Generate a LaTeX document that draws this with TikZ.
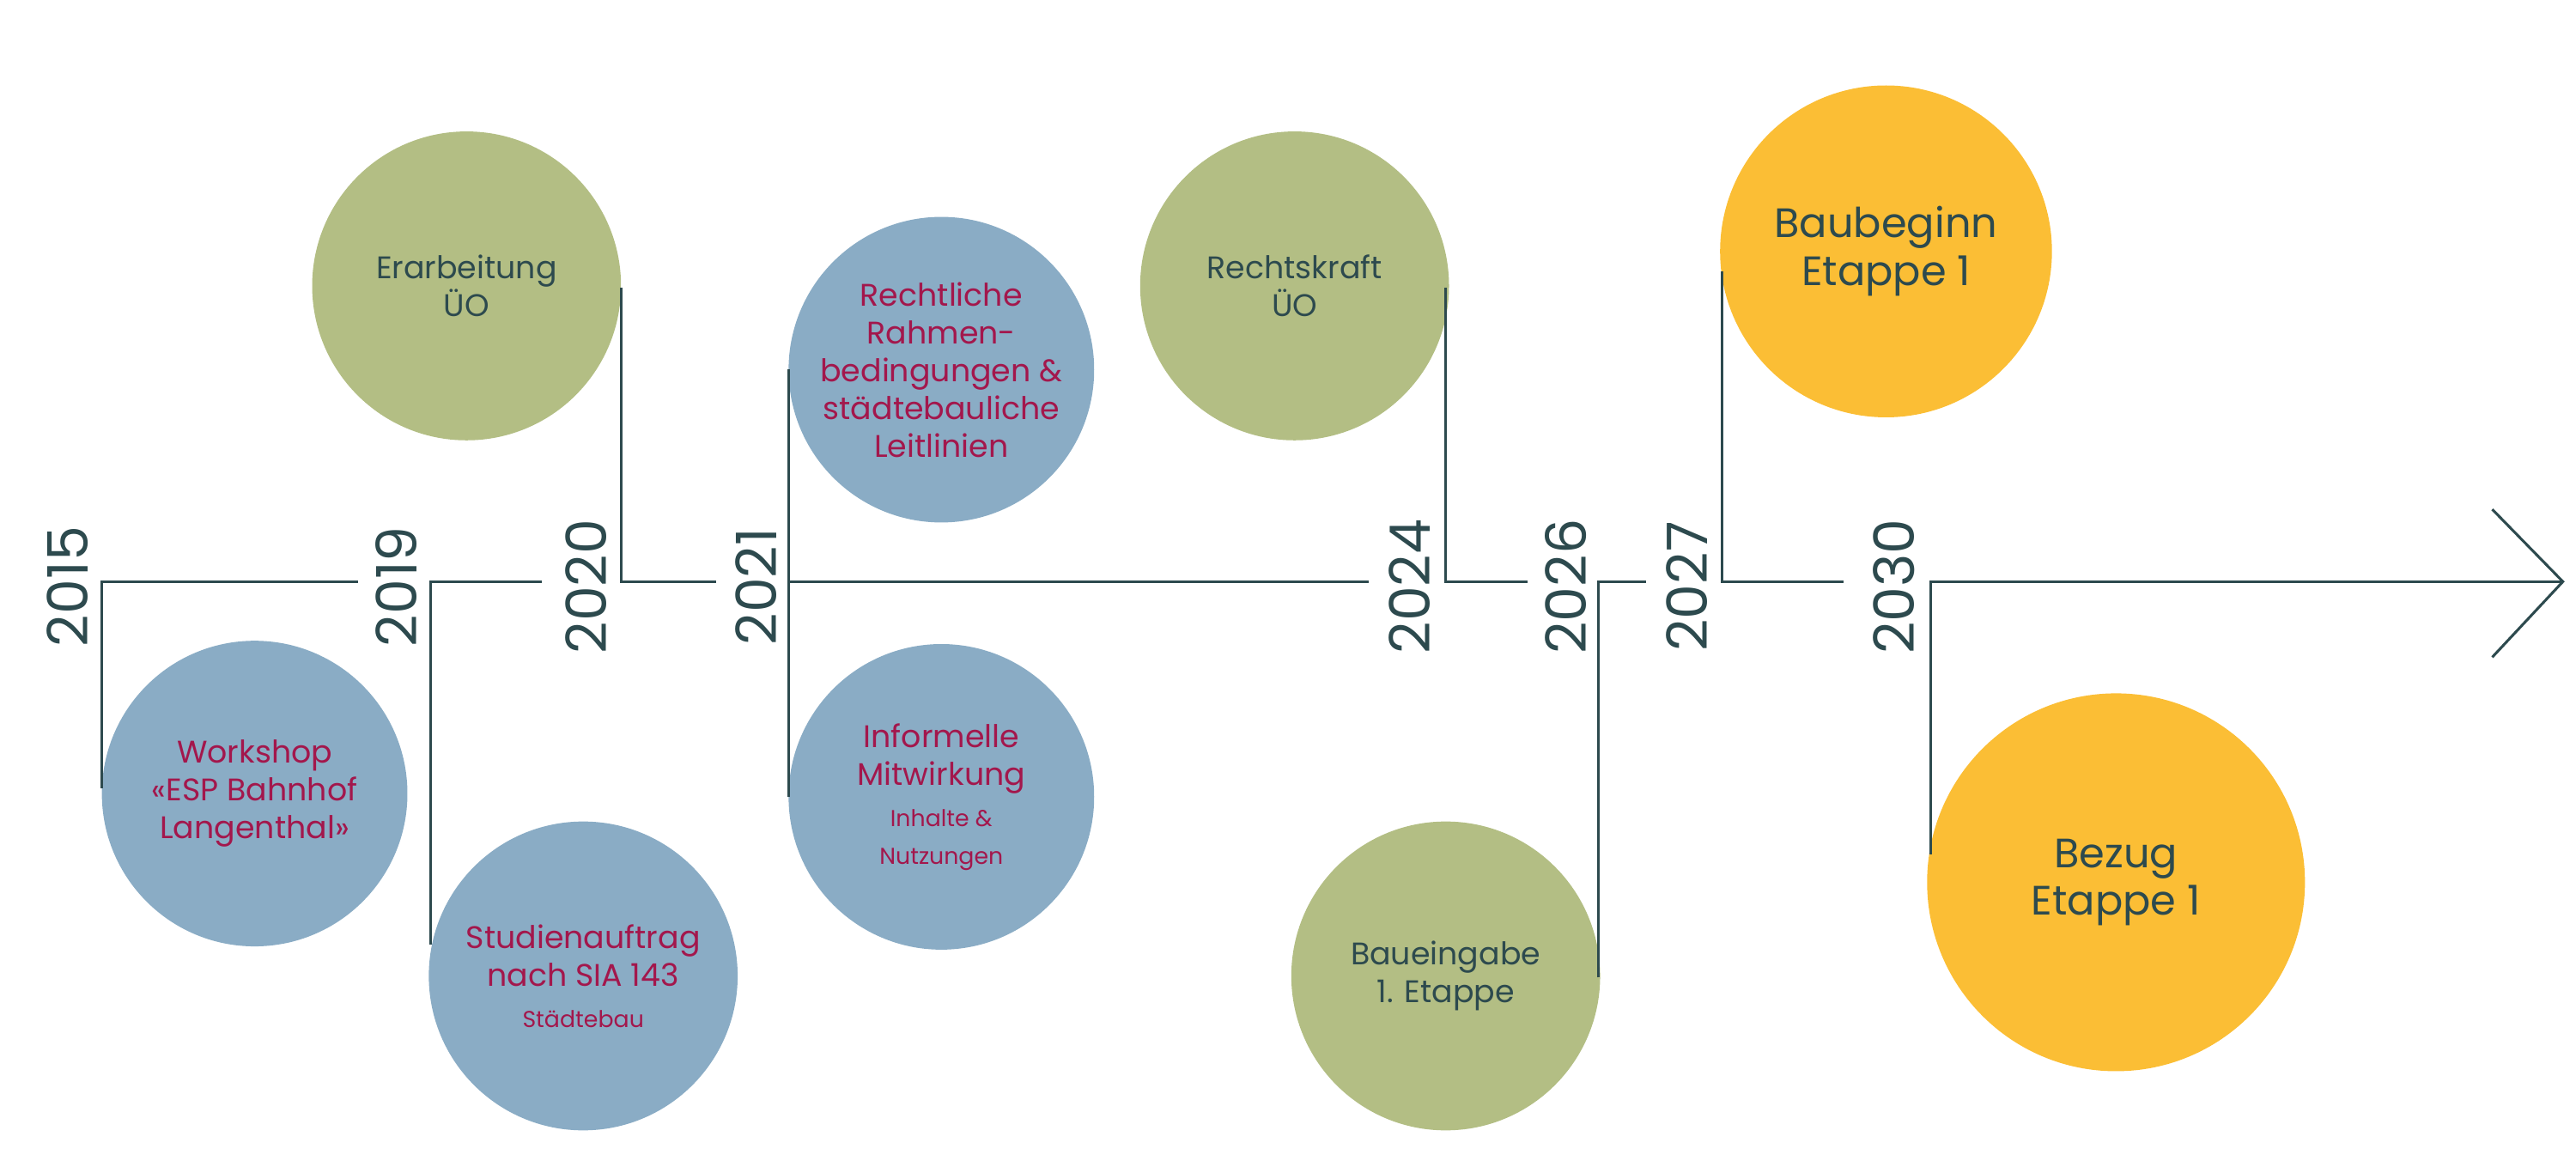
\documentclass[tikz,border=0pt]{standalone}
\usepackage{fontspec}
\setmainfont{Poppins}
\begin{document}
\definecolor{cg}{HTML}{B3BE84}
\definecolor{cb}{HTML}{8AACC5}
\definecolor{cy}{HTML}{FBBE35}
\definecolor{dk}{HTML}{2D4A4E}
\definecolor{rd}{HTML}{A3174C}
\begin{tikzpicture}[x=1pt,y=-1pt,
  circ/.style={circle,inner sep=0pt,align=center,font=\fontsize{19}{23}\selectfont},
  gr/.style={circ,fill=cg,text=dk},
  bl/.style={circ,fill=cb,text=rd},
  yel/.style={circ,fill=cy,text=dk,font=\fontsize{25}{29}\selectfont},
  yr/.style={rotate=90,text=dk,font=\fontsize{34}{34}\selectfont,inner sep=0pt},
  ln/.style={draw=dk,line width=1.6pt}]
\useasboundingbox (0,0) rectangle (1568,710);
\node[bl,minimum size=186pt] (c15) at (155,483) {Workshop\\«ESP Bahnhof\\Langenthal»};
\node[bl,minimum size=188pt] (c19) at (355,594) {Studienauftrag\\nach SIA 143\\[2pt]{\fontsize{14}{16}\selectfont Städtebau}};
\node[gr,minimum size=188pt] (c20) at (284,174) {Erarbeitung\\ÜO};
\node[bl,minimum size=186pt] (c21a) at (573,225) {Rechtliche\\Rahmen-\\bedingungen \&\\städtebauliche\\Leitlinien};
\node[bl,minimum size=186pt] (c21b) at (573,485) {Informelle\\Mitwirkung\\[2pt]{\fontsize{14}{20}\selectfont Inhalte \&}\\{\fontsize{14}{20}\selectfont Nutzungen}};
\node[gr,minimum size=188pt] (c24) at (788,174) {Rechtskraft\\ÜO};
\node[gr,minimum size=188pt] (c26) at (880,594) {Baueingabe\\1. Etappe};
\node[yel,minimum size=202pt] (c27) at (1148,153) {Baubeginn\\Etappe 1};
\node[yel,minimum size=230pt] (c30) at (1288,537) {Bezug\\Etappe 1};
\node[yr] (y15) at (41,357) {2015};
\node[yr] (y19) at (241,357) {2019};
\node[yr] (y20) at (357,357) {2020};
\node[yr] (y21) at (460,357) {2021};
\node[yr] (y24) at (858,357) {2024};
\node[yr] (y26) at (953,357) {2026};
\node[yr] (y27) at (1027,357) {2027};
\node[yr] (y30) at (1153,357) {2030};
\coordinate (e) at (1560,354);
\draw[ln] (62,480) -- (62,354) -- (218,354);
\draw[ln] (262,575) -- (262,354) -- (330,354);
\draw[ln] (378,175) -- (378,354) -- (436,354);
\draw[ln] (480,225) -- (480,485);
\draw[ln] (480,354) -- (833,354);
\draw[ln] (880,175) -- (880,354) -- (930,354);
\draw[ln] (973,595) -- (973,354) -- (1002,354);
\draw[ln] (1048,165) -- (1048,354) -- (1122,354);
\draw[ln] (1175,520) -- (1175,354) -- (e);
\draw[ln] (1517,310) -- (e) -- (1517,400);
\end{tikzpicture}
\end{document}
